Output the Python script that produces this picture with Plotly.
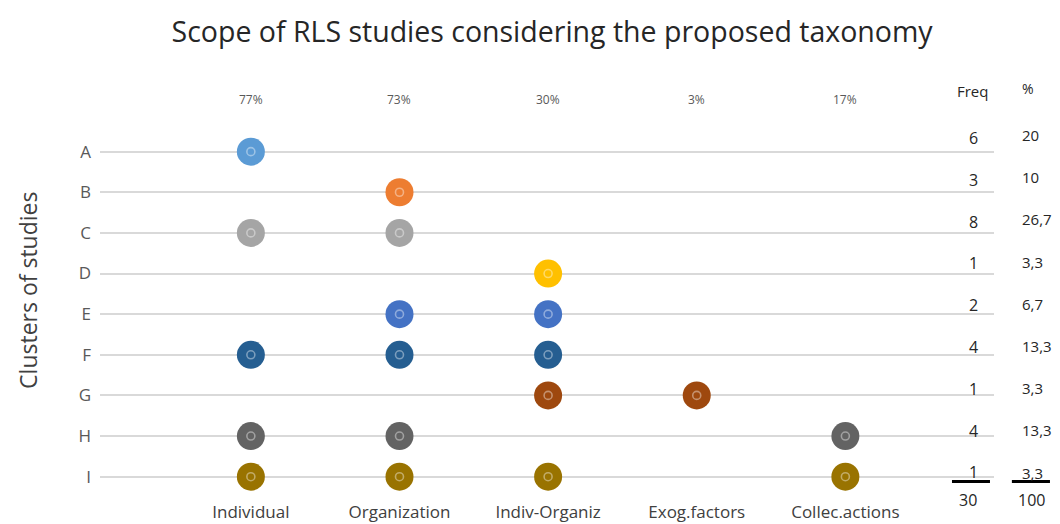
import plotly.graph_objects as go

# ---- data ----
clusters = ["A", "B", "C", "D", "E", "F", "G", "H", "I"]
scopes = ["Individual", "Organization", "Indiv-Organiz", "Exog.factors", "Collec.actions"]
scope_pct = ["77%", "73%", "30%", "3%", "17%"]
membership = {
    "A": ["Individual"],
    "B": ["Organization"],
    "C": ["Individual", "Organization"],
    "D": ["Indiv-Organiz"],
    "E": ["Organization", "Indiv-Organiz"],
    "F": ["Individual", "Organization", "Indiv-Organiz"],
    "G": ["Indiv-Organiz", "Exog.factors"],
    "H": ["Individual", "Organization", "Collec.actions"],
    "I": ["Individual", "Organization", "Indiv-Organiz", "Collec.actions"],
}
freq = [6, 3, 8, 1, 2, 4, 1, 4, 1]
pct = ["20", "10", "26,7", "3,3", "6,7", "13,3", "3,3", "13,3", "3,3"]
freq_total = "30"
pct_total = "100"

colors = ["#5B9BD5", "#ED7D31", "#A5A5A5", "#FFC000", "#4472C4",
          "#255E91", "#9E480E", "#636363", "#997300"]

FONT = "Open Sans"
TXT = "#262626"
fig = go.Figure()

for i, c in enumerate(clusters):
    xs = [scopes.index(s) for s in membership[c]]
    ys = [i] * len(xs)
    fig.add_trace(go.Scatter(
        x=xs, y=ys, mode="markers", showlegend=False, hoverinfo="skip",
        marker=dict(size=28, color=colors[i], line=dict(width=0)),
    ))
    fig.add_trace(go.Scatter(
        x=xs, y=ys, mode="markers", showlegend=False, hoverinfo="skip",
        marker=dict(size=8, symbol="circle-open", color="rgba(255,255,255,0.4)",
                    line=dict(width=1.6, color="rgba(255,255,255,0.4)")),
    ))

annotations = []
# column percentages (above the top line)
for j, p in enumerate(scope_pct):
    annotations.append(dict(x=j, y=1.0285, xref="x", yref="paper", text=p, showarrow=False,
                            xanchor="center", yanchor="middle",
                            font=dict(family=FONT, size=12, color="#595959")))
# table headers
annotations.append(dict(x=0.9955, y=1.0518, xref="paper", yref="paper", text="Freq",
                        showarrow=False, xanchor="right", yanchor="middle",
                        font=dict(family=FONT, size=15, color=TXT)))
annotations.append(dict(x=1.029, y=1.057, xref="paper", yref="paper", text="%",
                        showarrow=False, xanchor="left", yanchor="middle",
                        font=dict(family=FONT, size=14, color=TXT)))
# table rows
for i in range(len(clusters)):
    annotations.append(dict(x=0.984, y=0.930 - 0.1083 * i, xref="paper", yref="paper",
                            text=str(freq[i]), showarrow=False, xanchor="right",
                            yanchor="middle", font=dict(family=FONT, size=16, color=TXT)))
    annotations.append(dict(x=1.029, y=0.9378 - 0.1093 * i, xref="paper", yref="paper",
                            text=pct[i], showarrow=False, xanchor="left",
                            yanchor="middle", font=dict(family=FONT, size=15, color=TXT)))
# totals
annotations.append(dict(x=0.971, y=-0.0078, xref="paper", yref="paper", text=freq_total,
                        showarrow=False, xanchor="center", yanchor="middle",
                        font=dict(family=FONT, size=16, color=TXT)))
annotations.append(dict(x=1.0425, y=-0.0078, xref="paper", yref="paper", text=pct_total,
                        showarrow=False, xanchor="center", yanchor="middle",
                        font=dict(family=FONT, size=16, color=TXT)))
# y-axis title
annotations.append(dict(x=-0.0805, y=0.534, xref="paper", yref="paper",
                        text="Clusters of studies", textangle=-90, showarrow=False,
                        xanchor="center", yanchor="middle",
                        font=dict(family=FONT, size=23, color="#404040")))

shapes = [
    dict(type="line", xref="paper", yref="paper", x0=0.953, x1=0.9955, y0=0.040, y1=0.040,
         line=dict(color="#000000", width=3)),
    dict(type="line", xref="paper", yref="paper", x0=1.020, x1=1.0626, y0=0.040, y1=0.040,
         line=dict(color="#000000", width=3)),
]

fig.update_layout(
    width=1060, height=524,
    paper_bgcolor="white", plot_bgcolor="white",
    margin=dict(l=100, r=66, t=111, b=27),
    title=dict(text="Scope of RLS studies considering the proposed taxonomy",
               x=0.5208, xanchor="center", y=0.939, yanchor="middle",
               font=dict(family=FONT, size=28.5, color=TXT)),
    annotations=annotations,
    shapes=shapes,
    showlegend=False,
)
fig.update_xaxes(
    range=[-1.015, 5.0], tickvals=list(range(len(scopes))), ticktext=scopes,
    showgrid=False, zeroline=False, showline=False, ticks="", ticklabelstandoff=3,
    tickfont=dict(family=FONT, size=17, color="#404040"), automargin=False,
)
fig.update_yaxes(
    range=[8.5, -1.0], tickvals=[-1] + list(range(len(clusters))), ticktext=[""] + clusters,
    showgrid=True, gridcolor="#D9D9D9", gridwidth=2, zeroline=False, showline=False,
    ticks="", ticklabelstandoff=8,
    tickfont=dict(family=FONT, size=17, color="#595959"), automargin=False,
)

fig.write_html("out.html", config={"displayModeBar": False},
               post_script="document.body.style.margin='0';")
